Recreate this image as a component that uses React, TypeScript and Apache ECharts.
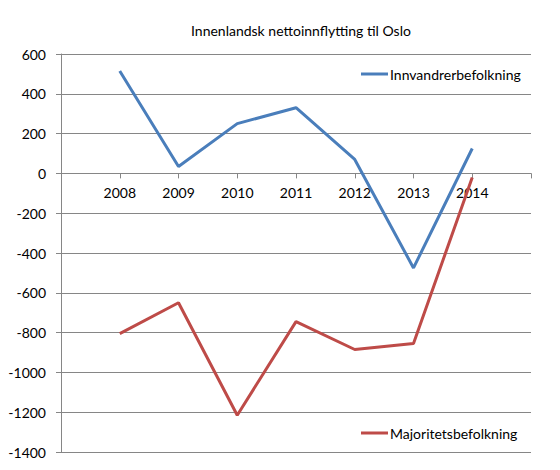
import React, { useEffect, useRef } from "react";
import * as echarts from "echarts";

const categories = ["2008", "2009", "2010", "2011", "2012", "2013", "2014"];
const innvandrer = [515, 35, 250, 330, 70, -475, 125];
const majoritet = [-805, -650, -1215, -745, -885, -855, -20];
const titleText = "Innenlandsk nettoinnflytting til Oslo";
const seriesNames = ["Innvandrerbefolkning", "Majoritetsbefolkning"];

const FONT = "Lato";
const GRID = "#868686";
const Y_MIN = -1400;
const Y_MAX = 600;
const GRID_TOP = 54;
const GRID_BOTTOM = 18;
const CHART_H = 470;

export default function App() {
  const ref = useRef<HTMLDivElement>(null);
  useEffect(() => {
    if (!ref.current) return;
    const chart = echarts.init(ref.current, null, { renderer: "svg" });
    const axisData = ["", ...categories, ""];
    const pad = (a: number[]) => [null, ...a, null];
    const plotH = CHART_H - GRID_TOP - GRID_BOTTOM;
    const zeroFromBottom = ((0 - Y_MIN) / (Y_MAX - Y_MIN)) * plotH;
    chart.setOption({
      animation: false,
      backgroundColor: "#ffffff",
      textStyle: { fontFamily: FONT },
      title: {
        text: titleText,
        left: 186,
        top: 18,
        textStyle: { fontFamily: FONT, fontSize: 14, fontWeight: "normal", color: "#000" },
      },
      legend: [
        {
          data: [seriesNames[0]],
          left: 356,
          top: 62,
          icon: "rect",
          itemWidth: 27,
          itemHeight: 3,
          textStyle: { fontFamily: FONT, fontSize: 14, color: "#000", padding: [0, 0, 0, -3] },
        },
        {
          data: [seriesNames[1]],
          left: 356,
          top: 421,
          icon: "rect",
          itemWidth: 27,
          itemHeight: 3,
          textStyle: { fontFamily: FONT, fontSize: 14, color: "#000", padding: [0, 0, 0, -3] },
        },
      ],
      grid: { left: 61, right: 29, top: GRID_TOP, bottom: GRID_BOTTOM, containLabel: false },
      xAxis: {
        type: "category",
        data: axisData,
        boundaryGap: false,
        position: "bottom",
        offset: -zeroFromBottom,
        axisLine: { onZero: false, lineStyle: { color: GRID, width: 1 } },
        axisTick: { show: true, length: 5, interval: 0, lineStyle: { color: GRID } },
        axisLabel: { interval: 0, margin: 12, fontFamily: FONT, fontSize: 14, color: "#000" },
        splitLine: { show: false },
      },
      yAxis: {
        type: "value",
        min: Y_MIN,
        max: Y_MAX,
        interval: 200,
        axisLine: { show: true, lineStyle: { color: GRID, width: 1 } },
        axisTick: { show: true, length: 5, lineStyle: { color: GRID } },
        axisLabel: {
          margin: 15,
          fontFamily: FONT,
          fontSize: 14,
          color: "#000",
          formatter: (v: number) => String(v),
        },
        splitLine: { show: true, lineStyle: { color: GRID, width: 1 } },
      },
      series: [
        {
          name: seriesNames[0],
          type: "line",
          data: pad(innvandrer),
          symbol: "none",
          lineStyle: { color: "#4A7EBB", width: 3 },
          itemStyle: { color: "#4A7EBB" },
          connectNulls: false,
        },
        {
          name: seriesNames[1],
          type: "line",
          data: pad(majoritet),
          symbol: "none",
          lineStyle: { color: "#BE4B48", width: 3 },
          itemStyle: { color: "#BE4B48" },
          connectNulls: false,
        },
      ],
    });
    return () => chart.dispose();
  }, []);
  return (
    <div
      ref={ref}
      style={{ position: "absolute", left: 0, top: 0, width: 560, height: 470 }}
    />
  );
}
